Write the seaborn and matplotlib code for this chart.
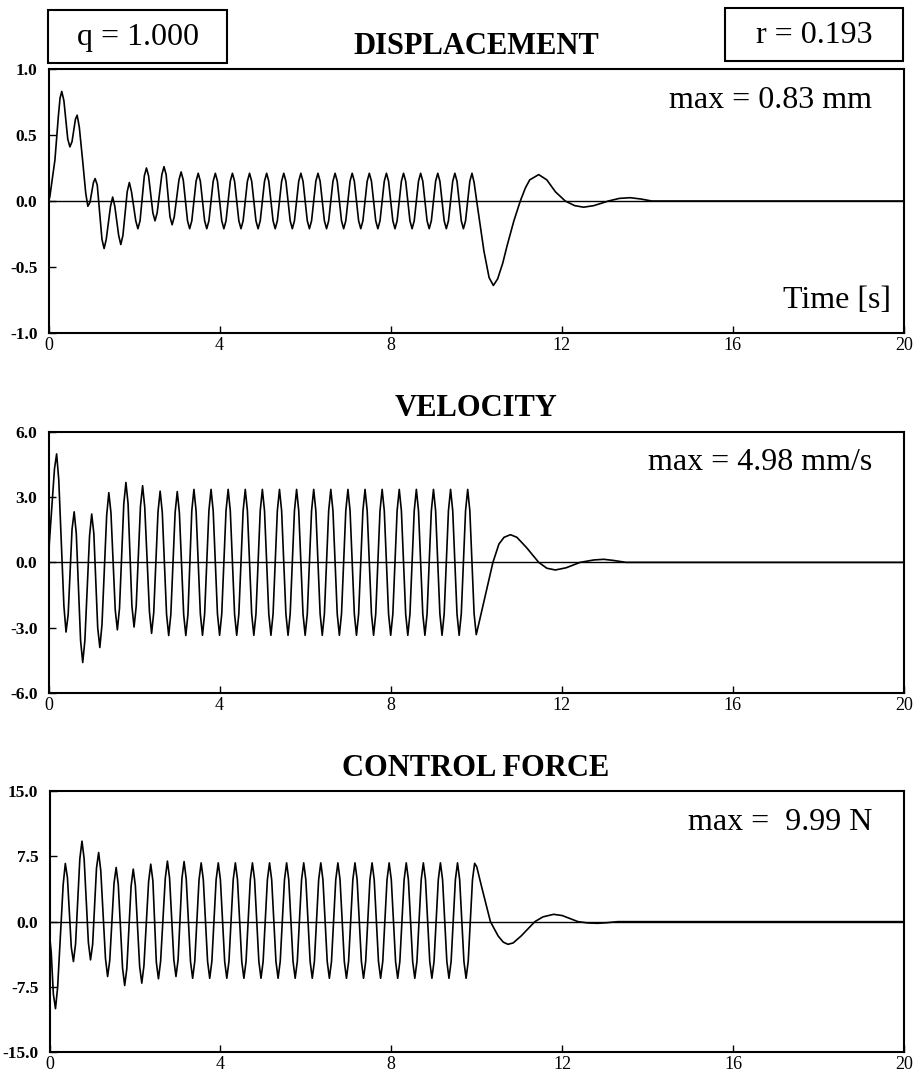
import matplotlib
matplotlib.use("Agg")
import matplotlib.pyplot as plt
from matplotlib.patches import Rectangle
import seaborn as sns
import pandas as pd

# ---------------- data ----------------
time_ticks = [0, 4, 8, 12, 16, 20]

disp_t = [0.00, 0.03, 0.15, 0.23, 0.27, 0.31, 0.36, 0.45, 0.50, 0.55, 0.63, 0.67,
          0.72, 0.80, 0.87, 0.92, 0.97, 1.05, 1.09, 1.14, 1.25, 1.30, 1.35, 1.45,
          1.50, 1.55, 1.64, 1.69, 1.74, 1.84, 1.89, 1.94, 2.04, 2.09, 2.14, 2.24,
          2.29, 2.34, 2.44, 2.49, 2.54, 2.65, 2.70, 2.75, 2.84, 2.89, 2.94, 3.05,
          3.10, 3.15, 3.25, 3.30, 3.35,
          3.45, 3.50, 3.55, 3.65, 3.70, 3.75,
          3.85, 3.90, 3.95, 4.05, 4.10, 4.15,
          4.25, 4.30, 4.35, 4.45, 4.50, 4.55,
          4.65, 4.70, 4.75, 4.85, 4.90, 4.95,
          5.05, 5.10, 5.15, 5.25, 5.30, 5.35,
          5.45, 5.50, 5.55, 5.65, 5.70, 5.75,
          5.85, 5.90, 5.95, 6.05, 6.10, 6.15,
          6.25, 6.30, 6.35, 6.45, 6.50, 6.55,
          6.65, 6.70, 6.75, 6.85, 6.90, 6.95,
          7.05, 7.10, 7.15, 7.25, 7.30, 7.35,
          7.45, 7.50, 7.55, 7.65, 7.70, 7.75,
          7.85, 7.90, 7.95, 8.05, 8.10, 8.15,
          8.25, 8.30, 8.35, 8.45, 8.50, 8.55,
          8.65, 8.70, 8.75, 8.85, 8.90, 8.95,
          9.05, 9.10, 9.15, 9.25, 9.30, 9.35,
          9.45, 9.50, 9.55, 9.65, 9.70, 9.75,
          9.85, 9.90, 9.95,
          10.01, 10.10, 10.18, 10.30, 10.40, 10.50, 10.62, 10.72, 10.88, 11.03,
          11.15, 11.25, 11.46, 11.65, 11.85, 12.08, 12.30, 12.51, 12.75, 13.09,
          13.35, 13.60, 13.85, 14.10, 20.00]
disp_y = [0.00, 0.03, 0.31, 0.64, 0.78, 0.83, 0.76, 0.47, 0.41, 0.45, 0.62, 0.65,
          0.56, 0.30, 0.06, -0.04, -0.01, 0.14, 0.17, 0.12, -0.29, -0.36, -0.29, -0.04,
          0.03, -0.04, -0.26, -0.33, -0.26, 0.07, 0.14, 0.07, -0.15, -0.21, -0.15, 0.19,
          0.25, 0.19, -0.09, -0.15, -0.09, 0.20, 0.26, 0.20, -0.12, -0.18, -0.12, 0.16,
          0.22, 0.16, -0.15, -0.21, -0.15,
          0.15, 0.21, 0.15, -0.15, -0.21, -0.15,
          0.15, 0.21, 0.15, -0.15, -0.21, -0.15,
          0.15, 0.21, 0.15, -0.15, -0.21, -0.15,
          0.15, 0.21, 0.15, -0.15, -0.21, -0.15,
          0.15, 0.21, 0.15, -0.15, -0.21, -0.15,
          0.15, 0.21, 0.15, -0.15, -0.21, -0.15,
          0.15, 0.21, 0.15, -0.15, -0.21, -0.15,
          0.15, 0.21, 0.15, -0.15, -0.21, -0.15,
          0.15, 0.21, 0.15, -0.15, -0.21, -0.15,
          0.15, 0.21, 0.15, -0.15, -0.21, -0.15,
          0.15, 0.21, 0.15, -0.15, -0.21, -0.15,
          0.15, 0.21, 0.15, -0.15, -0.21, -0.15,
          0.15, 0.21, 0.15, -0.15, -0.21, -0.15,
          0.15, 0.21, 0.15, -0.15, -0.21, -0.15,
          0.15, 0.21, 0.15, -0.15, -0.21, -0.15,
          0.15, 0.21, 0.15, -0.15, -0.21, -0.15,
          0.15, 0.21, 0.14,
          0.00, -0.20, -0.38, -0.58, -0.64, -0.59, -0.47, -0.34, -0.15, 0.00,
          0.10, 0.16, 0.20, 0.16, 0.07, 0.00, -0.035, -0.047, -0.035, 0.00,
          0.02, 0.025, 0.015, 0.00, 0.00]

vel_t = [0.00, 0.02, 0.14, 0.19, 0.24, 0.36, 0.41, 0.46, 0.55, 0.60, 0.65, 0.75,
         0.80, 0.85, 0.96, 1.01, 1.06, 1.15, 1.20, 1.25, 1.36, 1.41, 1.46, 1.56,
         1.61, 1.66, 1.76, 1.81, 1.86, 1.95, 2.00, 2.05, 2.15, 2.20, 2.25, 2.36,
         2.41, 2.46, 2.56, 2.61, 2.66, 2.76, 2.81, 2.86, 2.96, 3.01, 3.06, 3.16,
         3.21, 3.26,
         3.35, 3.40, 3.45, 3.55, 3.60, 3.65,
         3.75, 3.80, 3.85, 3.95, 4.00, 4.05,
         4.15, 4.20, 4.25, 4.35, 4.40, 4.45,
         4.55, 4.60, 4.65, 4.75, 4.80, 4.85,
         4.95, 5.00, 5.05, 5.15, 5.20, 5.25,
         5.35, 5.40, 5.45, 5.55, 5.60, 5.65,
         5.75, 5.80, 5.85, 5.95, 6.00, 6.05,
         6.15, 6.20, 6.25, 6.35, 6.40, 6.45,
         6.55, 6.60, 6.65, 6.75, 6.80, 6.85,
         6.95, 7.00, 7.05, 7.15, 7.20, 7.25,
         7.35, 7.40, 7.45, 7.55, 7.60, 7.65,
         7.75, 7.80, 7.85, 7.95, 8.00, 8.05,
         8.15, 8.20, 8.25, 8.35, 8.40, 8.45,
         8.55, 8.60, 8.65, 8.75, 8.80, 8.85,
         8.95, 9.00, 9.05, 9.15, 9.20, 9.25,
         9.35, 9.40, 9.45, 9.55, 9.60, 9.65,
         9.75, 9.80, 9.85, 9.95, 10.00, 10.05,
         10.39, 10.53, 10.65, 10.80, 10.95, 11.17, 11.46, 11.65, 11.85, 12.10,
         12.43, 12.75, 12.98, 13.20, 13.50, 20.00]
vel_y = [0.00, 0.90, 4.30, 4.98, 3.79, -2.00, -3.20, -2.39, 1.51, 2.32, 1.31, -3.59,
         -4.60, -3.60, 1.22, 2.22, 1.32, -2.99, -3.91, -2.87, 2.16, 3.20, 2.28, -2.18,
         -3.10, -2.11, 2.68, 3.67, 2.70, -2.00, -2.97, -2.02, 2.57, 3.52, 2.53, -2.27,
         -3.26, -2.31, 2.32, 3.27, 2.30, -2.39, -3.36, -2.39, 2.28, 3.25, 2.28, -2.39,
         -3.36, -2.39,
         2.37, 3.35, 2.37, -2.37, -3.35, -2.37,
         2.37, 3.35, 2.37, -2.37, -3.35, -2.37,
         2.37, 3.35, 2.37, -2.37, -3.35, -2.37,
         2.37, 3.35, 2.37, -2.37, -3.35, -2.37,
         2.37, 3.35, 2.37, -2.37, -3.35, -2.37,
         2.37, 3.35, 2.37, -2.37, -3.35, -2.37,
         2.37, 3.35, 2.37, -2.37, -3.35, -2.37,
         2.37, 3.35, 2.37, -2.37, -3.35, -2.37,
         2.37, 3.35, 2.37, -2.37, -3.35, -2.37,
         2.37, 3.35, 2.37, -2.37, -3.35, -2.37,
         2.37, 3.35, 2.37, -2.37, -3.35, -2.37,
         2.37, 3.35, 2.37, -2.37, -3.35, -2.37,
         2.37, 3.35, 2.37, -2.37, -3.35, -2.37,
         2.37, 3.35, 2.37, -2.37, -3.35, -2.37,
         2.37, 3.35, 2.37, -2.37, -3.35, -2.37,
         2.37, 3.35, 2.37, -2.37, -3.35, -2.37,
         2.37, 3.35, 2.37, -2.37, -3.32, -2.90,
         0.00, 0.84, 1.15, 1.27, 1.15, 0.69, 0.00, -0.27, -0.35, -0.25,
         0.00, 0.11, 0.14, 0.09, 0.00, 0.00]

force_t = [0.00, 0.04, 0.09, 0.14, 0.19, 0.32, 0.37, 0.42, 0.51, 0.56, 0.61, 0.71,
           0.76, 0.81, 0.91, 0.96, 1.01, 1.10, 1.15, 1.20, 1.31, 1.36, 1.41, 1.51,
           1.56, 1.61, 1.71, 1.76, 1.81, 1.91, 1.96, 2.01, 2.11, 2.16, 2.21, 2.32,
           2.37, 2.42, 2.50, 2.55, 2.60, 2.71, 2.76, 2.81, 2.91, 2.96, 3.01, 3.10,
           3.15, 3.20,
           3.30, 3.35, 3.40, 3.50, 3.55, 3.60,
           3.70, 3.75, 3.80, 3.90, 3.95, 4.00,
           4.10, 4.15, 4.20, 4.30, 4.35, 4.40,
           4.50, 4.55, 4.60, 4.70, 4.75, 4.80,
           4.90, 4.95, 5.00, 5.10, 5.15, 5.20,
           5.30, 5.35, 5.40, 5.50, 5.55, 5.60,
           5.70, 5.75, 5.80, 5.90, 5.95, 6.00,
           6.10, 6.15, 6.20, 6.30, 6.35, 6.40,
           6.50, 6.55, 6.60, 6.70, 6.75, 6.80,
           6.90, 6.95, 7.00, 7.10, 7.15, 7.20,
           7.30, 7.35, 7.40, 7.50, 7.55, 7.60,
           7.70, 7.75, 7.80, 7.90, 7.95, 8.00,
           8.10, 8.15, 8.20, 8.30, 8.35, 8.40,
           8.50, 8.55, 8.60, 8.70, 8.75, 8.80,
           8.90, 8.95, 9.00, 9.10, 9.15, 9.20,
           9.30, 9.35, 9.40, 9.50, 9.55, 9.60,
           9.70, 9.75, 9.80, 9.90, 9.95, 10.00,
           10.11, 10.32, 10.50, 10.62, 10.73, 10.85, 11.04, 11.36, 11.55, 11.80,
           12.00, 12.37, 12.60, 12.83, 13.05, 13.30, 20.00]
force_y = [-1.50, -3.50, -8.30, -9.99, -7.56, 4.25, 6.68, 5.04, -2.94, -4.58, -2.56, 7.22,
           9.24, 7.25, -2.40, -4.39, -2.59, 6.14, 7.94, 5.86, -4.22, -6.30, -4.47, 4.39,
           6.22, 4.24, -5.35, -7.33, -5.38, 4.08, 6.03, 4.12, -5.15, -7.06, -5.07, 4.61,
           6.60, 4.68, -4.64, -6.56, -4.59, 4.98, 6.95, 5.02, -4.37, -6.30, -4.37, 4.97,
           6.90, 4.93,
           -4.57, -6.50, -4.57, 4.82, 6.75, 4.82,
           -4.57, -6.50, -4.57, 4.82, 6.75, 4.82,
           -4.57, -6.50, -4.57, 4.82, 6.75, 4.82,
           -4.57, -6.50, -4.57, 4.82, 6.75, 4.82,
           -4.57, -6.50, -4.57, 4.82, 6.75, 4.82,
           -4.57, -6.50, -4.57, 4.82, 6.75, 4.82,
           -4.57, -6.50, -4.57, 4.82, 6.75, 4.82,
           -4.57, -6.50, -4.57, 4.82, 6.75, 4.82,
           -4.57, -6.50, -4.57, 4.82, 6.75, 4.82,
           -4.57, -6.50, -4.57, 4.82, 6.75, 4.82,
           -4.57, -6.50, -4.57, 4.82, 6.75, 4.82,
           -4.57, -6.50, -4.57, 4.82, 6.75, 4.82,
           -4.57, -6.50, -4.57, 4.82, 6.75, 4.82,
           -4.57, -6.50, -4.57, 4.82, 6.75, 4.82,
           -4.57, -6.50, -4.57, 4.82, 6.75, 4.82,
           -4.57, -6.50, -4.57, 4.82, 6.75, 4.82,
           -4.57, -6.50, -4.57, 4.80, 6.70, 6.30,
           4.08, 0.00, -1.64, -2.35, -2.60, -2.45, -1.64, 0.00, 0.55, 0.84,
           0.70, 0.00, -0.15, -0.19, -0.12, 0.00, 0.00]

titles = ["DISPLACEMENT", "VELOCITY", "CONTROL FORCE"]
max_labels = ["max = 0.83 mm", "max = 4.98 mm/s", "max =  9.99 N"]
y_ticks = [[-1.0, -0.5, 0.0, 0.5, 1.0],
           [-6.0, -3.0, 0.0, 3.0, 6.0],
           [-15.0, -7.5, 0.0, 7.5, 15.0]]
y_ticklabels = [["-1.0", "-0.5", "0.0", "0.5", "1.0"],
                ["-6.0", "-3.0", "0.0", "3.0", "6.0"],
                ["-15.0", "-7.5", "0.0", "7.5", "15.0"]]
q_label = "q = 1.000"
r_label = "r = 0.193"
x_label = "Time [s]"

# ---------------- style ----------------
sns.set_theme(style="white")
plt.rcParams["font.family"] = ["Liberation Serif", "DejaVu Serif"]
plt.rcParams["axes.unicode_minus"] = False

W, H = 921, 1075
fig = plt.figure(figsize=(W / 100, H / 100), dpi=100)
fig.patch.set_facecolor("white")

def fx(px):
    return px / W

def fy(py):
    return 1 - py / H

# axes boxes in pixels: (left, top, right, bottom)
boxes = [(48.5, 69, 904, 333), (48.5, 431.7, 904, 693), (49.5, 791, 904, 1052.3)]
series = [(disp_t, disp_y), (vel_t, vel_y), (force_t, force_y)]
title_y = [46, 409, 768]

for i, (box, (t, y)) in enumerate(zip(boxes, series)):
    l, tp, r, b = box
    ax = fig.add_axes([fx(l), fy(b), fx(r - l), (b - tp) / H])
    n = min(len(t), len(y))
    df = pd.DataFrame({"t": t[:n], "y": y[:n]})
    ax.axhline(0, color="black", lw=1.0, zorder=1)
    sns.lineplot(data=df, x="t", y="y", ax=ax, color="black", lw=1.2,
                 estimator=None, sort=False, zorder=2)
    ax.set_xlim(0, 20)
    lim = y_ticks[i][-1]
    ax.set_ylim(-lim, lim)
    ax.set_xticks(time_ticks)
    ax.set_xticklabels([str(v) for v in time_ticks], fontsize=13)
    ax.set_yticks(y_ticks[i])
    ax.set_yticklabels(y_ticklabels[i], fontsize=12.5, fontweight="bold")
    ax.tick_params(axis="both", direction="in", length=5, width=1, colors="black",
                   bottom=True, left=True, pad=3)
    ax.tick_params(axis="y", pad=8)
    ax.set_xlabel("")
    ax.set_ylabel("")
    for s in ax.spines.values():
        s.set_color("black")
        s.set_linewidth(1.5)
        s.set_visible(True)
    ax.text(0.9626, 0.852, max_labels[i], transform=ax.transAxes, ha="right",
            va="baseline", fontsize=23, color="black")
    fig.text(fx(476), fy(title_y[i]), titles[i], ha="center", va="center",
             fontsize=22, fontweight="bold", color="black")
    if i == 0:
        ax.text(0.9848, 0.0947, x_label, transform=ax.transAxes, ha="right",
                va="baseline", fontsize=23, color="black")

# boxed parameter labels
for (l, tp, r, b), lab in [((48, 10, 227, 63), q_label), ((725, 8, 903, 61), r_label)]:
    fig.patches.append(Rectangle((fx(l), fy(b)), fx(r - l), (b - tp) / H,
                                 transform=fig.transFigure, fill=True,
                                 facecolor="white", edgecolor="black", lw=1.5))
    fig.text(fx((l + r) / 2), fy((tp + b) / 2 + 1), lab, ha="center", va="center",
             fontsize=23, color="black")

fig.savefig("out.png", dpi=100, facecolor="white")
